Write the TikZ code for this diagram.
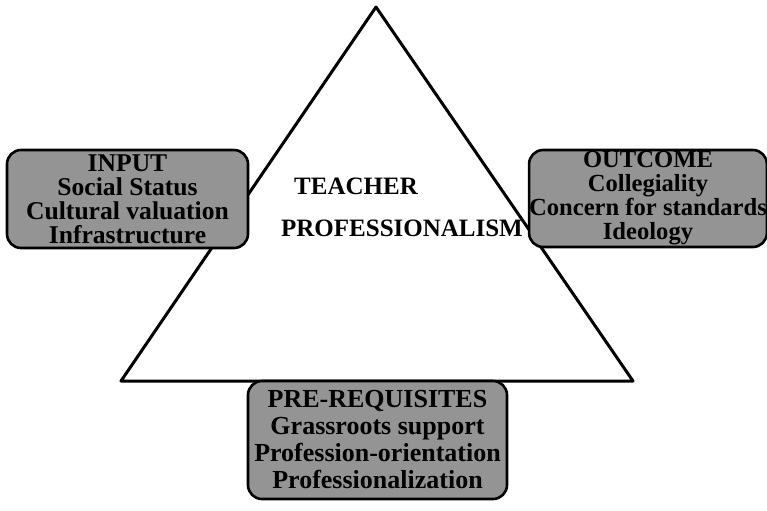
\documentclass[tikz,border=0pt]{standalone}
\usepackage{fontspec}
\setmainfont{Liberation Serif}
\begin{document}
\begin{tikzpicture}[x=0.5pt,y=-0.5pt,line join=round,line cap=round,font=\bfseries]
 \tikzset{box/.style={draw,line width=1.3pt,fill=black!42,rounded corners=7pt,align=center,inner sep=0pt,
   font=\fontsize{12.8}{12}\bfseries\selectfont}}
 \useasboundingbox (0,0) rectangle (767,510);
 % the triangle
 \draw[line width=1.5pt] (376,7) coordinate (top) -- (121,381) coordinate (bl) -- (633,381) coordinate (br) -- cycle;
 \node[font=\fontsize{12.5}{15}\bfseries\selectfont] (teacher) at (356,186) {TEACHER};
 \node[font=\fontsize{12.5}{15}\bfseries\selectfont] (prof) at (402,228) {PROFESSIONALISM};
 % the three boxes
 \node[box,minimum width=120.5pt,minimum height=49pt] (input) at (127.5,199)
  {INPUT\\Social Status\\Cultural valuation\\Infrastructure};
 \node[box,minimum width=115.5pt,minimum height=48.5pt,font=\fontsize{12.3}{12}\bfseries\selectfont] (outcome) at (648,198.5)
  {OUTCOME\\Collegiality\\Concern for standards\\Ideology};
 \node[box,minimum width=129.5pt,minimum height=59pt,font=\fontsize{13}{13.5}\bfseries\selectfont] (prereq) at (377.5,440)
  {PRE-REQUISITES\\Grassroots support\\Profession-orientation\\Professionalization};
\end{tikzpicture}
\end{document}
